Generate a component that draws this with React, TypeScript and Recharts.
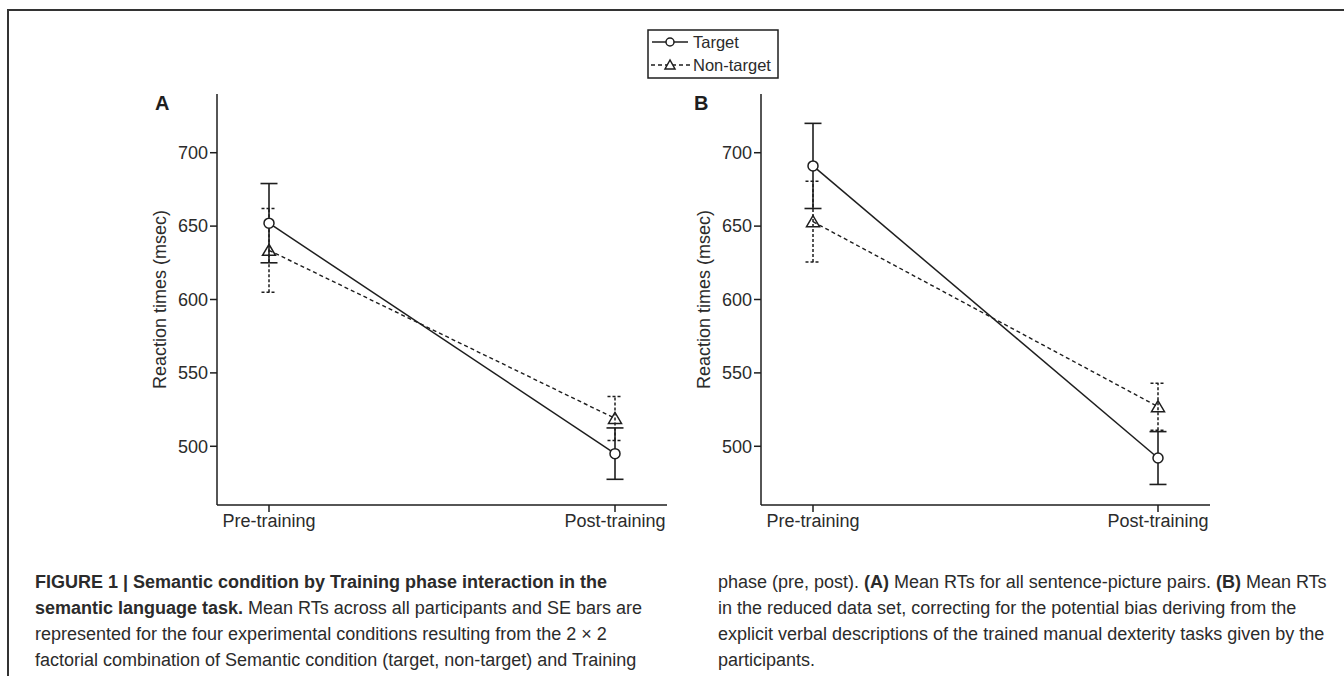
import React from 'react';
import { LineChart, Line, XAxis, YAxis, ErrorBar } from 'recharts';

// categories and axis ticks
const phases = ['Pre-training', 'Post-training'];
const yTicks = [500, 550, 600, 650, 700];

// panel A: all sentence-picture pairs (mean RT, SE)
const targetA = [652, 495];
const targetSeA = [27, 17.5];
const nonTargetA = [633.5, 519];
const nonTargetSeA = [28.5, 15];

// panel B: reduced data set
const targetB = [691, 492];
const targetSeB = [29, 18];
const nonTargetB = [653, 527];
const nonTargetSeB = [27.5, 16];

const font = '"Liberation Sans", Arial, Helvetica, sans-serif';
const ink = '#1e1e1e';
const textInk = '#2b2b2b';

function buildRows(t: number[], tSe: number[], n: number[], nSe: number[]) {
  return phases.map((phase, i) => ({
    phase,
    target: t[i],
    targetSe: tSe[i],
    nonTarget: n[i],
    nonTargetSe: nSe[i],
  }));
}

const rowsA = buildRows(targetA, targetSeA, nonTargetA, nonTargetSeA);
const rowsB = buildRows(targetB, targetSeB, nonTargetB, nonTargetSeB);

const CircleDot = (props: any) => {
  const { cx, cy } = props;
  if (cx == null || cy == null) return null;
  return <circle cx={cx} cy={cy} r={5} fill="#fff" stroke={ink} strokeWidth={1.5} />;
};

const TriangleDot = (props: any) => {
  const { cx, cy } = props;
  if (cx == null || cy == null) return null;
  return (
    <polygon
      points={`${cx},${cy - 6} ${cx - 6.5},${cy + 5} ${cx + 6.5},${cy + 5}`}
      fill="none"
      stroke={ink}
      strokeWidth={1.5}
    />
  );
};

const yLabel = (props: any) => {
  const vb = props.viewBox || {};
  const x = (vb.x ?? 0) + 30;
  const y = (vb.y ?? 0) + (vb.height ?? 0) / 2;
  return (
    <text
      x={x}
      y={y}
      transform={`rotate(-90, ${x}, ${y})`}
      textAnchor="middle"
      dominantBaseline="central"
      fontFamily={font}
      fontSize={18}
      fill={textInk}
    >
      Reaction times (msec)
    </text>
  );
};

const tickStyle = { fontFamily: font, fontSize: 18, fill: textInk };
const frame = { stroke: ink, strokeWidth: 1.5 };

function Panel({ rows, left, width }: { rows: any[]; left: number; width: number }) {
  return (
    <div style={{ position: 'absolute', left, top: 80, width, height: 470 }}>
      <LineChart width={width} height={470} data={rows} margin={{ top: 14, right: 23, bottom: 10, left: 30 }}>
        <XAxis
          dataKey="phase"
          scale="point"
          padding={{ left: 52, right: 52 }}
          tickSize={7}
          tick={tickStyle}
          tickLine={frame}
          axisLine={frame}
          height={35}
        />
        <XAxis
          xAxisId="top"
          orientation="top"
          dataKey="phase"
          scale="point"
          padding={{ left: 52, right: 52 }}
          tick={false}
          tickLine={false}
          axisLine={frame}
          height={0}
        />
        <YAxis
          type="number"
          domain={[460, 740]}
          ticks={yTicks}
          tickSize={7}
          tick={tickStyle}
          tickLine={frame}
          axisLine={frame}
          width={87}
          label={{ content: yLabel }}
        />
        <YAxis
          yAxisId="right"
          orientation="right"
          type="number"
          domain={[460, 740]}
          tick={false}
          tickLine={false}
          axisLine={frame}
          width={0}
        />
        <Line
          dataKey="nonTarget"
          stroke={ink}
          strokeWidth={1.4}
          strokeDasharray="4 3"
          dot={TriangleDot}
          activeDot={false}
          isAnimationActive={false}
        >
          <ErrorBar dataKey="nonTargetSe" direction="y" width={7.5} stroke={ink} strokeWidth={1.5} strokeDasharray="3 2" />
        </Line>
        <Line
          dataKey="target"
          stroke={ink}
          strokeWidth={1.5}
          dot={CircleDot}
          activeDot={false}
          isAnimationActive={false}
        >
          <ErrorBar dataKey="targetSe" direction="y" width={8.5} stroke={ink} strokeWidth={1.6} />
        </Line>
      </LineChart>
    </div>
  );
}

const captionLeft: { t: string; b?: boolean }[][] = [
  [{ t: 'FIGURE 1 | Semantic condition by Training phase interaction in the', b: true }],
  [{ t: 'semantic language task.', b: true }, { t: ' Mean RTs across all participants and SE bars are' }],
  [{ t: 'represented for the four experimental conditions resulting from the 2 \u00d7 2' }],
  [{ t: 'factorial combination of Semantic condition (target, non-target) and Training' }],
];

const captionRight: { t: string; b?: boolean }[][] = [
  [
    { t: 'phase (pre, post). ' },
    { t: '(A)', b: true },
    { t: ' Mean RTs for all sentence-picture pairs. ' },
    { t: '(B)', b: true },
    { t: ' Mean RTs' },
  ],
  [{ t: 'in the reduced data set, correcting for the potential bias deriving from the' }],
  [{ t: 'explicit verbal descriptions of the trained manual dexterity tasks given by the' }],
  [{ t: 'participants.' }],
];

const captionBaselines = [588, 614, 640, 666];

function Caption({ lines, x }: { lines: { t: string; b?: boolean }[][]; x: number }) {
  return (
    <g fontFamily={font} fontSize={18} fill={textInk}>
      {lines.map((parts, i) => (
        <text key={i} x={x} y={captionBaselines[i]} xmlSpace="preserve">
          {parts.map((p, j) => (
            <tspan key={j} fontWeight={p.b ? 700 : 400}>
              {p.t}
            </tspan>
          ))}
        </text>
      ))}
    </g>
  );
}

export default function App() {
  return (
    <div style={{ position: 'absolute', left: 0, top: 0, width: 1344, height: 676, background: '#fff', overflow: 'hidden' }}>
      <svg width={1344} height={676} style={{ position: 'absolute', left: 0, top: 0 }}>
        <path d="M 8 700 L 8 10 L 1360 10" fill="none" stroke="#333" strokeWidth={2} />
        {/* legend */}
        <rect x={648} y={30} width={130} height={48} fill="none" stroke={ink} strokeWidth={1.5} />
        <line x1={652} y1={42} x2={688} y2={42} stroke={ink} strokeWidth={1.5} />
        <circle cx={670} cy={42} r={4} fill="#fff" stroke={ink} strokeWidth={1.5} />
        <text x={693} y={48} fontFamily={font} fontSize={16.5} fill={textInk}>Target</text>
        <line x1={651} y1={65} x2={690} y2={65} stroke={ink} strokeWidth={1.5} strokeDasharray="4 3" />
        <polygon points="670,60 665,69 675,69" fill="#fff" stroke={ink} strokeWidth={1.5} />
        <text x={693} y={71} fontFamily={font} fontSize={16.5} fill={textInk}>Non-target</text>
        {/* panel letters */}
        <text x={155} y={110} fontFamily={font} fontSize={20} fontWeight={700} fill={ink}>A</text>
        <text x={694} y={110} fontFamily={font} fontSize={20} fontWeight={700} fill={ink}>B</text>
        <Caption lines={captionLeft} x={35} />
        <Caption lines={captionRight} x={718} />
      </svg>
      <Panel rows={rowsA} left={100} width={590} />
      <Panel rows={rowsB} left={644} width={589} />
    </div>
  );
}
